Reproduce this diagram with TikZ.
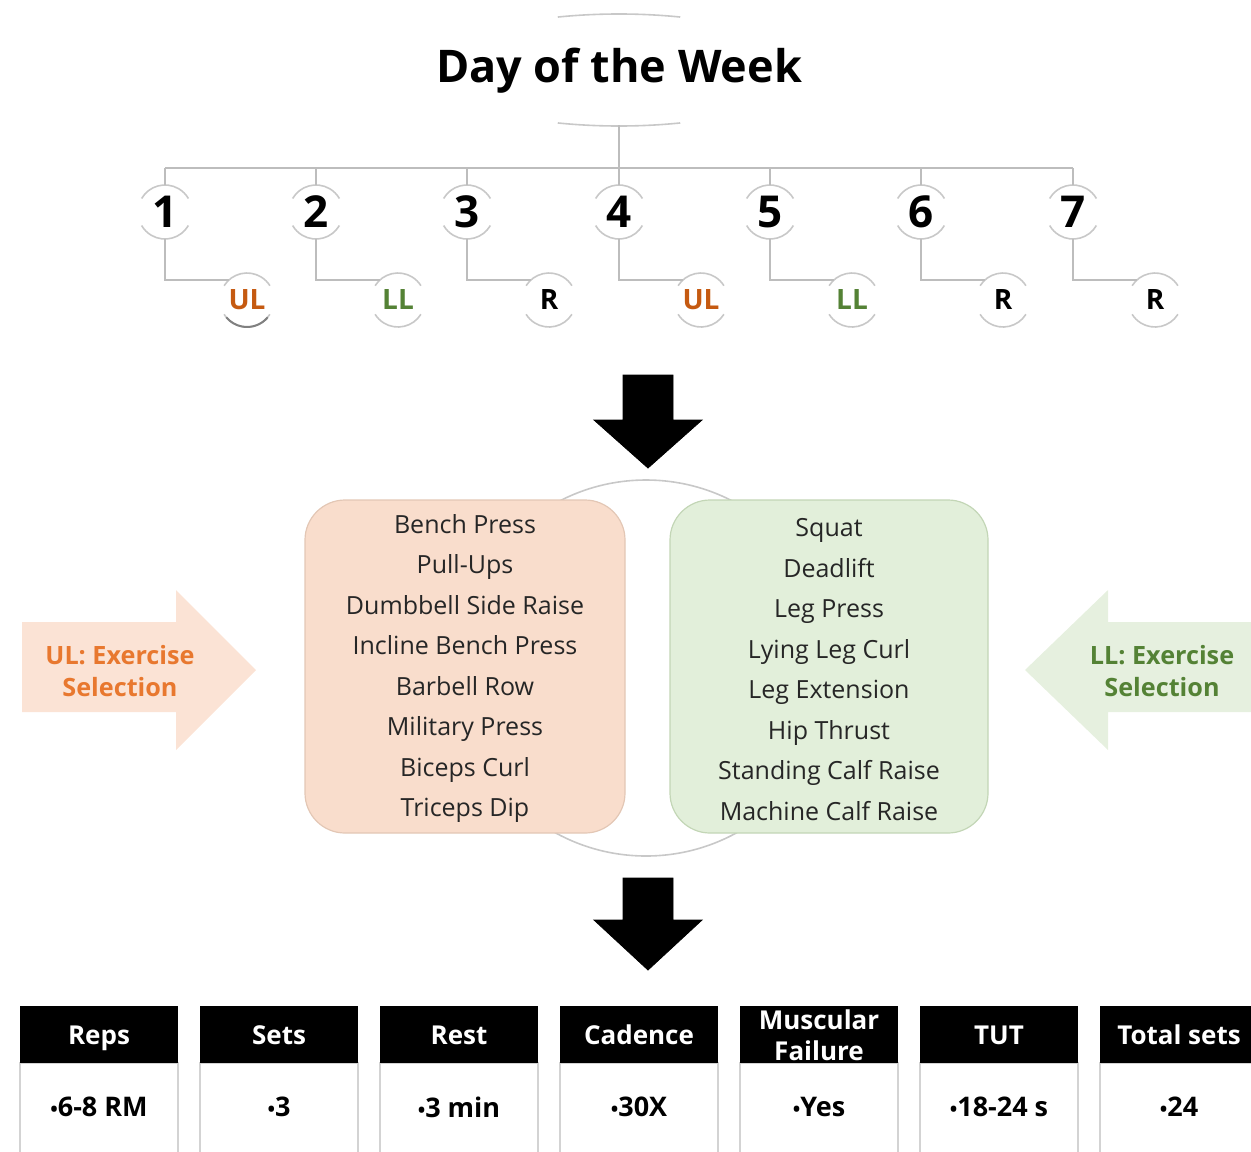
\documentclass[tikz,border=0pt]{standalone}
\usepackage{fontspec}
\setmainfont{Open Sans}
\usetikzlibrary{calc}
\definecolor{ulc}{HTML}{C55A11}
\definecolor{llc}{HTML}{548235}
\definecolor{ultext}{HTML}{E8782F}
\definecolor{peach}{HTML}{F9DDCC}
\definecolor{peachline}{HTML}{E3C7B5}
\definecolor{peacharrow}{HTML}{FBE3D5}
\definecolor{mint}{HTML}{E2EFDA}
\definecolor{mintline}{HTML}{C3D6B6}
\definecolor{mintarrow}{HTML}{E6F0DF}
\definecolor{conncol}{HTML}{BDBDBD}
\definecolor{arccol}{HTML}{C8C8C8}
\definecolor{cellline}{HTML}{D3D3D3}
\newcommand{\bul}{{\fontsize{10}{10}\selectfont•}}
\tikzset{
  conn/.style={draw=conncol, line width=1pt},
  arcline/.style={draw=arccol, line width=0.8pt},
  daynum/.style={font=\fontsize{22}{26}\selectfont\bfseries, inner sep=0pt},
  kind/.style={font=\fontsize{14}{17}\selectfont\bfseries, inner sep=0pt},
  exlist/.style={font=\fontsize{12.5}{20.25}\selectfont, align=center, inner sep=0pt},
  bigarrow/.style={fill=black},
  sidetext/.style={font=\fontsize{12.6}{16}\selectfont\bfseries, align=center, inner sep=0pt},
  headtext/.style={font=\fontsize{13}{16}\selectfont\bfseries, text=white, align=center, inner sep=0pt},
  valtext/.style={font=\fontsize{13.5}{16}\selectfont\bfseries, inner sep=0pt}
}
\begin{document}
\begin{tikzpicture}[x=0.5pt,y=-0.5pt]
\useasboundingbox (0,0) rectangle (1251,1151);
\clip (0,0) rectangle (1251,1151);

% ---------- title ----------
\node[font=\fontsize{22.5}{26}\selectfont\bfseries, inner sep=0pt] (title) at (619,71) {Day of the Week};
\draw[arcline] ($(619,70)+(251:{188} and {56})$) arc[start angle=251,end angle=289,x radius=188,y radius=56];
\draw[arcline] ($(619,70)+(71:{188} and {56})$) arc[start angle=71,end angle=109,x radius=188,y radius=56];
\coordinate (tb) at (619,125);
\coordinate (bus) at (619,168);
\draw[conn] (tb) -- (bus);

% ---------- days ----------
\foreach \i/\x/\lab/\col in {1/165/UL/ulc,2/316/LL/llc,3/467/R/black,4/619/UL/ulc,5/770/LL/llc,6/921/R/black,7/1073/R/black}{
  \node[daynum] (d\i) at (\x,212) {\i};
  \coordinate (dt\i) at (\x,185);
  \coordinate (db\i) at (\x,239);
  \coordinate (bt\i) at (\x,168);
  \coordinate (elb\i) at (\x,280);
  \node[kind, text=\col] (k\i) at (\x+82,300) {\lab};
  \coordinate (ke\i) at (\x+64,280);
  % arcs around day number
  \draw[arcline] ($(d\i.center)+(210:27)$) arc[start angle=210,end angle=330,radius=27];
  \draw[arcline] ($(d\i.center)+(30:27)$) arc[start angle=30,end angle=150,radius=27];
  % arcs around kind label
  \draw[arcline] ($(k\i.center)+(212:27)$) arc[start angle=212,end angle=328,radius=27];
  \draw[arcline] ($(k\i.center)+(32:27)$) arc[start angle=32,end angle=148,radius=27];
  \draw[conn] (bt\i) -- (dt\i);
  \draw[conn] (db\i) -- (elb\i) -- (ke\i);
}
\draw[conn] (bt1) -- (bt7);
% darker bottom arc of first UL
\draw[draw=gray, line width=1pt] ($(k1.center)+(40:27)$) arc[start angle=40,end angle=140,radius=27];

% ---------- first big arrow ----------
\draw[bigarrow] (623,375) -- (673,375) -- (673,420) -- (702,420) -- (648,468) -- (594,420) -- (623,420) -- cycle;

% ---------- exercise boxes ----------
\coordinate (cc) at (646,668);
\draw[arcline] (cc) circle[radius=188];
\node[draw=peachline, fill=peach, rounded corners=20pt, minimum width=160pt, minimum height=166.5pt, line width=0.6pt] (ulbox) at (465,666.5) {};
\node[draw=mintline, fill=mint, rounded corners=20pt, minimum width=159pt, minimum height=166.5pt, line width=0.6pt] (llbox) at (829,666.5) {};
\node[exlist, text=black!85] (ullist) at (465,668.5) {Bench Press\\Pull-Ups\\Dumbbell Side Raise\\Incline Bench Press\\Barbell Row\\Military Press\\Biceps Curl\\Triceps Dip};
\node[exlist, text=black!85] (lllist) at (829,669.5) {Squat\\Deadlift\\Leg Press\\Lying Leg Curl\\Leg Extension\\Hip Thrust\\Standing Calf Raise\\Machine Calf Raise};

% ---------- side arrows ----------
\draw[fill=peacharrow, draw=none] (22,622) -- (176,622) -- (176,590) -- (256,670) -- (176,750) -- (176,712) -- (22,712) -- cycle;
\node[sidetext, text=ultext] (ultitle) at (120,671) {UL: Exercise\\Selection};
\draw[fill=mintarrow, draw=none] (1260,622) -- (1108,622) -- (1108,590) -- (1025,670) -- (1108,750) -- (1108,712) -- (1260,712) -- cycle;
\node[sidetext, text=llc] (lltitle) at (1162,671) {LL: Exercise\\Selection};

% ---------- second big arrow ----------
\draw[bigarrow] (623,878) -- (673,878) -- (673,920) -- (702,920) -- (648,970) -- (594,920) -- (623,920) -- cycle;

% ---------- table ----------
\foreach \j/\h/\v in {0/Reps/{\bul6-8 RM},1/Sets/{\bul3},2/Rest/{\bul3 min},3/Cadence/{\bul30X},4/{Muscular\vphantom{Rp}\\[-0.5pt]Failure\vphantom{Rp}}/{\bul Yes},5/TUT/{\bul18-24 s},6/Total sets/{\bul24}}{
  \pgfmathsetmacro{\xo}{20+180*\j}
  \draw[draw=cellline, fill=white, line width=0.8pt] (\xo,1063) rectangle (\xo+158,1175);
  \fill[black] (\xo,1006) rectangle (\xo+158,1063);
  \node[headtext] (h\j) at (\xo+79,1038) {\h\vphantom{Rp}};
  \node[valtext] (v\j) at (\xo+79,1110) {\v\vphantom{Rp}};
}
\end{tikzpicture}
\end{document}
